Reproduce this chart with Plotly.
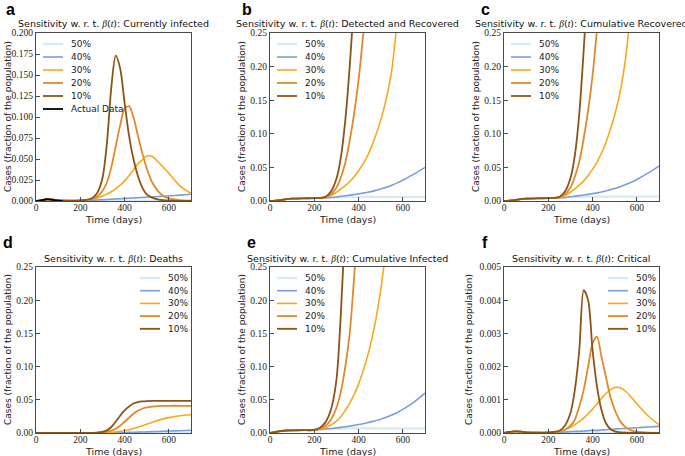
import plotly.graph_objects as go

# time grid (days) shared by all simulated curves
days = [0, 25, 50, 75, 100, 150, 200, 225, 250, 275, 300, 320, 340, 360, 380,
        400, 420, 440, 460, 480, 500, 525, 550, 575, 600, 650, 700]

# a: currently infected
inf_50 = [0, 0.0008, 0.002, 0.0016, 0.0008, 0.0003, 0.0003, 0.0003, 0.0003, 0.0003, 0.0003, 0.0003, 0.0003, 0.0003,
          0.0003, 0.0003, 0.0003, 0.0003, 0.0003, 0.0003, 0.0003, 0.0003, 0.0003, 0.0003, 0.0003, 0.0003, 0.0003]
inf_40 = [0, 0.0008, 0.002, 0.0016, 0.0008, 0.0003, 0.0005, 0.0007, 0.0009, 0.0012, 0.0015, 0.0018, 0.0021, 0.0024,
          0.0027, 0.003, 0.0033, 0.0036, 0.0039, 0.0042, 0.0045, 0.0049, 0.0053, 0.0057, 0.0061, 0.007, 0.008]
inf_30 = [0, 0.0008, 0.002, 0.0016, 0.0008, 0.0003, 0.0005, 0.0009, 0.0017, 0.0033, 0.006, 0.0082, 0.011, 0.0148,
          0.019, 0.024, 0.03, 0.037, 0.044, 0.049, 0.0535, 0.053, 0.047, 0.04, 0.033, 0.018, 0.009]
inf_20 = [0, 0.0008, 0.002, 0.0016, 0.0008, 0.0003, 0.0005, 0.001, 0.0022, 0.005, 0.012, 0.022, 0.04, 0.065,
          0.09, 0.11, 0.113, 0.1, 0.078, 0.057, 0.039, 0.022, 0.012, 0.006, 0.003, 0.001, 0.0003]
inf_10 = [0, 0.0008, 0.002, 0.0016, 0.0008, 0.0003, 0.0006, 0.0012, 0.003, 0.009, 0.027, 0.068, 0.135, 0.173,
          0.158, 0.117, 0.078, 0.05, 0.03, 0.016, 0.008, 0.004, 0.002, 0.001, 0.0005, 0.0002, 0.0001]
actual_days = [0, 10, 20, 30, 40, 50, 60, 70, 80, 90, 100, 110, 120]
actual_inf = [0, 0.0002, 0.0006, 0.0012, 0.0018, 0.0021, 0.002, 0.0016, 0.0011, 0.0007, 0.0004, 0.0002, 0.0001]

# b: detected and recovered
det_50 = [0, 0.0005, 0.0015, 0.0028, 0.0035, 0.004, 0.0042, 0.0044, 0.0047, 0.005, 0.0055, 0.0058, 0.006, 0.006,
          0.006, 0.006, 0.006, 0.006, 0.006, 0.006, 0.006, 0.006, 0.006, 0.006, 0.006, 0.006, 0.006]
det_40 = [0, 0.0005, 0.0015, 0.0028, 0.0035, 0.004, 0.0042, 0.0044, 0.0047, 0.0052, 0.006, 0.007, 0.0078, 0.0087,
          0.0096, 0.0106, 0.0117, 0.0129, 0.0143, 0.016, 0.0178, 0.0205, 0.0235, 0.027, 0.031, 0.04, 0.05]
det_30 = [0, 0.0005, 0.0015, 0.0028, 0.0035, 0.004, 0.0042, 0.0044, 0.005, 0.008, 0.013, 0.018, 0.023, 0.029,
          0.036, 0.045, 0.055, 0.067, 0.082, 0.1, 0.12, 0.152, 0.195, 0.27, 0.34, 0.46, 0.6]
det_20 = [0, 0.0005, 0.0015, 0.0028, 0.0035, 0.004, 0.0042, 0.0044, 0.006, 0.01, 0.02, 0.035, 0.057, 0.09,
          0.13, 0.18, 0.245, 0.32, 0.4, 0.48, 0.56, 0.65, 0.72, 0.78, 0.83, 0.9, 0.95]
det_10 = [0, 0.0005, 0.0015, 0.0028, 0.0035, 0.004, 0.0042, 0.0045, 0.006, 0.014, 0.033, 0.065, 0.12, 0.2,
          0.3, 0.4, 0.5, 0.6, 0.68, 0.75, 0.8, 0.85, 0.9, 0.93, 0.95, 0.97, 0.98]

# c: cumulative recovered
rec_50 = [0, 0.0005, 0.0015, 0.0028, 0.0035, 0.004, 0.0042, 0.0044, 0.0047, 0.0051, 0.0056, 0.006, 0.0062, 0.0064,
          0.0065, 0.0065, 0.0065, 0.0065, 0.0065, 0.0065, 0.0065, 0.0065, 0.0065, 0.0065, 0.0065, 0.0065, 0.0065]
rec_40 = [0, 0.0005, 0.0015, 0.0028, 0.0035, 0.004, 0.0042, 0.0044, 0.0047, 0.0053, 0.0062, 0.0072, 0.008, 0.0089,
          0.0099, 0.011, 0.0121, 0.0134, 0.0149, 0.0166, 0.0185, 0.0213, 0.0244, 0.028, 0.032, 0.0415, 0.052]
rec_30 = [0, 0.0005, 0.0015, 0.0028, 0.0035, 0.004, 0.0042, 0.0044, 0.005, 0.008, 0.013, 0.018, 0.024, 0.03,
          0.038, 0.047, 0.058, 0.071, 0.087, 0.106, 0.128, 0.163, 0.215, 0.29, 0.36, 0.48, 0.62]
rec_20 = [0, 0.0005, 0.0015, 0.0028, 0.0035, 0.004, 0.0042, 0.0044, 0.006, 0.01, 0.02, 0.036, 0.059, 0.093,
          0.135, 0.187, 0.255, 0.33, 0.41, 0.49, 0.57, 0.66, 0.73, 0.79, 0.84, 0.9, 0.95]
rec_10 = [0, 0.0005, 0.0015, 0.0028, 0.0035, 0.004, 0.0042, 0.0045, 0.006, 0.014, 0.034, 0.068, 0.13, 0.225,
          0.33, 0.43, 0.52, 0.61, 0.69, 0.75, 0.8, 0.85, 0.9, 0.93, 0.95, 0.97, 0.98]

# d: deaths
death_50 = [0, 0, 0, 0, 0, 0, 0, 0, 0, 0, 0.0001, 0.0002, 0.0002, 0.0003,
            0.0003, 0.0003, 0.0003, 0.0003, 0.0003, 0.0003, 0.0003, 0.0003, 0.0003, 0.0003, 0.0003, 0.0003, 0.0003]
death_40 = [0, 0, 0, 0, 0, 0, 0, 0, 0, 0.0001, 0.0002, 0.0003, 0.0004, 0.0005,
            0.0006, 0.0008, 0.0009, 0.0011, 0.0013, 0.0015, 0.0017, 0.002, 0.0023, 0.0026, 0.0029, 0.0035, 0.0042]
death_30 = [0, 0, 0, 0, 0, 0, 0, 0, 0, 0.0001, 0.0003, 0.0006, 0.001, 0.0016,
            0.0024, 0.0035, 0.005, 0.0068, 0.0088, 0.011, 0.0133, 0.0162, 0.019, 0.0213, 0.0232, 0.026, 0.0275]
death_20 = [0, 0, 0, 0, 0, 0, 0, 0, 0, 0.0003, 0.0008, 0.0018, 0.0035, 0.0065,
            0.011, 0.017, 0.023, 0.029, 0.0335, 0.0365, 0.0385, 0.0398, 0.0405, 0.0408, 0.041, 0.041, 0.041]
death_10 = [0, 0, 0, 0, 0, 0, 0, 0, 0, 0.0006, 0.0016, 0.004, 0.009, 0.017,
            0.026, 0.034, 0.04, 0.0445, 0.0465, 0.0475, 0.048, 0.0483, 0.0485, 0.0485, 0.0485, 0.0485, 0.0485]

# e: cumulative infected
cum_50 = [0, 0.0015, 0.003, 0.0038, 0.004, 0.0042, 0.0045, 0.005, 0.0055, 0.006, 0.0065, 0.0067, 0.0068, 0.0069,
          0.007, 0.007, 0.007, 0.007, 0.007, 0.007, 0.007, 0.007, 0.007, 0.007, 0.007, 0.007, 0.007]
cum_40 = [0, 0.0015, 0.003, 0.0038, 0.004, 0.0042, 0.0045, 0.0052, 0.006, 0.0068, 0.0077, 0.0085, 0.0094, 0.0104,
          0.0115, 0.0127, 0.014, 0.0155, 0.0171, 0.0189, 0.0208, 0.0237, 0.027, 0.031, 0.0355, 0.0465, 0.06]
cum_30 = [0, 0.0015, 0.003, 0.0038, 0.004, 0.0042, 0.0045, 0.006, 0.008, 0.012, 0.018, 0.025, 0.034, 0.045,
          0.058, 0.074, 0.093, 0.115, 0.142, 0.175, 0.215, 0.28, 0.35, 0.43, 0.52, 0.7, 0.85]
cum_20 = [0, 0.0015, 0.003, 0.0038, 0.004, 0.0042, 0.0045, 0.007, 0.011, 0.02, 0.038, 0.062, 0.1, 0.15,
          0.235, 0.33, 0.43, 0.53, 0.62, 0.7, 0.77, 0.83, 0.87, 0.9, 0.92, 0.94, 0.95]
cum_10 = [0, 0.0015, 0.003, 0.0038, 0.004, 0.0042, 0.0046, 0.008, 0.016, 0.035, 0.08, 0.18, 0.32, 0.45,
          0.56, 0.65, 0.72, 0.78, 0.82, 0.85, 0.87, 0.89, 0.9, 0.91, 0.92, 0.93, 0.93]

# f: critical
crit_50 = [0, 0.00003, 0.00005, 0.00004, 0.00002, 0.00001, 0.00001, 0.00001, 0.00001, 0.00001, 0.00001, 0.00001, 0.00001,
           0.00001, 0.00001, 0.00001, 0.00001, 0.00001, 0.00001, 0.00001, 0.00001, 0.00001, 0.00001, 0.00001, 0.00001,
           0.00001, 0.00001]
crit_40 = [0, 0.00003, 0.00005, 0.00004, 0.00002, 0.00001, 0.00001, 0.00002, 0.00002, 0.00003, 0.00004, 0.00005, 0.00005,
           0.00006, 0.00007, 0.00008, 0.00008, 0.00009, 0.0001, 0.00011, 0.00012, 0.00013, 0.00014, 0.00015, 0.00016,
           0.00018, 0.0002]
crit_30 = [0, 0.00003, 0.00005, 0.00004, 0.00002, 0.00001, 0.00001, 0.00002, 0.00005, 0.0001, 0.00017, 0.00025, 0.00034,
           0.00045, 0.00058, 0.00072, 0.00088, 0.00104, 0.00119, 0.0013, 0.00137, 0.00136, 0.00125, 0.00108, 0.00088,
           0.00052, 0.00025]
crit_20 = [0, 0.00003, 0.00005, 0.00004, 0.00002, 0.00001, 0.00001, 0.00002, 0.00004, 0.0001, 0.00022, 0.0004, 0.0008,
           0.0013, 0.002, 0.0027, 0.0029, 0.0023, 0.0017, 0.0011, 0.0007, 0.00035, 0.00017, 0.00008, 0.00004,
           0.00001, 0]
crit_10 = [0, 0.00003, 0.00005, 0.00004, 0.00002, 0.00001, 0.00002, 0.00003, 0.00007, 0.00022, 0.0006, 0.0013, 0.0025,
           0.0043, 0.004, 0.0025, 0.0014, 0.0007, 0.0003, 0.00012, 0.00005, 0.00002, 0.00001, 0, 0, 0, 0]

labels = ["50%", "40%", "30%", "20%", "10%"]
colors = ["#d5eaf4", "#7b9de0", "#f9a81b", "#e08a2b", "#8b5518"]
widths = [2.2, 1.6, 1.6, 1.8, 1.8]

axis_color = "#4a4a4a"
sans = "DejaVu Sans"
serif = "Liberation Serif"

beta = ("<span style=\"font-family:Liberation Serif;font-style:italic\">β</span>(<span "
        "style=\"font-family:Liberation Serif;font-style:italic\">t</span>)")

# title, series, ymax, dtick, tick format, legend side, letter
panels = [
    ("Currently infected", [inf_50, inf_40, inf_30, inf_20, inf_10], 0.2, 0.025, ".3f", "left", "a"),
    ("Detected and Recovered", [det_50, det_40, det_30, det_20, det_10], 0.25, 0.05, ".2f", "left", "b"),
    ("Cumulative Recovered", [rec_50, rec_40, rec_30, rec_20, rec_10], 0.25, 0.05, ".2f", "left", "c"),
    ("Deaths", [death_50, death_40, death_30, death_20, death_10], 0.25, 0.05, ".2f", "right", "d"),
    ("Cumulative Infected", [cum_50, cum_40, cum_30, cum_20, cum_10], 0.25, 0.05, ".2f", "left", "e"),
    ("Critical", [crit_50, crit_40, crit_30, crit_20, crit_10], 0.005, 0.001, ".3f", "right", "f"),
]

# plot areas in pixels (x0, x1, y_top, y_bottom)
W, H = 685, 456
boxes = [
    (36, 191, 33, 201), (270, 425, 33, 201), (504, 659, 33, 201),
    (36, 191, 267, 433), (270, 425, 267, 433), (504, 659, 267, 433),
]
ytitle_x = [8, 242, 476, 8, 242, 469]
letter_x = [10, 247, 486, 8, 251, 485]
letter_y = [9, 9, 9, 242, 242, 242]

fig = go.Figure()
annotations = []
shapes = []


def px(x):
    return x / W


def py(y):
    return 1 - y / H


for i, (title, series, ymax, dtick, fmt, side, letter) in enumerate(panels):
    n = "" if i == 0 else str(i + 1)
    x0, x1, yt, yb = boxes[i]
    names = labels[:]
    cols = colors[:]
    lws = widths[:]
    for lab, col, lw, ys in zip(labels, colors, widths, series):
        fig.add_trace(go.Scatter(
            x=days, y=ys, mode="lines", name=lab, showlegend=False,
            line=dict(color=col, width=lw, shape="spline", smoothing=0.8),
            xaxis="x" + n, yaxis="y" + n,
        ))
    if i == 0:
        fig.add_trace(go.Scatter(
            x=actual_days, y=actual_inf, mode="lines", name="Actual Data", showlegend=False,
            line=dict(color="black", width=1.8, shape="spline"),
            xaxis="x", yaxis="y",
        ))
        names.append("Actual Data")
        cols.append("black")
        lws.append(1.8)

    common = dict(
        showline=True, mirror=True, linecolor=axis_color, linewidth=1.3,
        ticks="inside", ticklen=4, tickcolor=axis_color, tickwidth=1,
        showgrid=False, zeroline=False, automargin=False,
        tickfont=dict(family=serif, size=9.5, color="#222"),
    )
    fig.layout["xaxis" + n] = dict(
        common, domain=[px(x0), px(x1)], range=[0, 700], tickvals=[0, 200, 400, 600],
        anchor="y" + n, ticklabelstandoff=-3,
    )
    fig.layout["yaxis" + n] = dict(
        common, domain=[py(yb), py(yt)], range=[0, ymax], dtick=dtick, tickformat=fmt,
        anchor="x" + n,
    )

    # legend: short line sample + label, drawn inside the panel
    if side == "left":
        lx0 = x0 + 7
    else:
        lx0 = x1 - 51
    ly0 = yt + 11
    step = 13 if i < 3 else 12.7
    for k, (nm, col, lw) in enumerate(zip(names, cols, lws)):
        ly = ly0 + k * step
        shapes.append(dict(
            type="line", xref="paper", yref="paper",
            x0=px(lx0), x1=px(lx0 + 20), y0=py(ly), y1=py(ly),
            line=dict(color=col, width=lw),
        ))
        annotations.append(dict(
            text=nm, x=px(lx0 + 26), y=py(ly), xref="paper", yref="paper",
            xanchor="left", yanchor="middle", showarrow=False,
            font=dict(family=sans, size=9, color="#222"),
        ))

    annotations.append(dict(
        text="Sensitivity w. r. t. " + beta + ": " + title,
        x=px((x0 + x1) / 2), y=py(yt - 9), xref="paper", yref="paper",
        xanchor="center", yanchor="middle", showarrow=False,
        font=dict(family=sans, size=9.5, color="#111"),
    ))
    annotations.append(dict(
        text="Time (days)",
        x=px((x0 + x1) / 2), y=py(yb + 18), xref="paper", yref="paper",
        xanchor="center", yanchor="middle", showarrow=False,
        font=dict(family=sans, size=9.5, color="#222"),
    ))
    annotations.append(dict(
        text="Cases (fraction of the population)", textangle=-90,
        x=px(ytitle_x[i]), y=py((yt + yb) / 2), xref="paper", yref="paper",
        xanchor="center", yanchor="middle", showarrow=False,
        font=dict(family=sans, size=9, color="#222"),
    ))
    annotations.append(dict(
        text="<b>" + letter + "</b>", x=px(letter_x[i]), y=py(letter_y[i]),
        xref="paper", yref="paper", xanchor="center", yanchor="middle", showarrow=False,
        font=dict(family="Liberation Sans", size=16, color="black"),
    ))

fig.update_layout(
    width=W, height=H,
    margin=dict(l=0, r=0, t=0, b=0),
    paper_bgcolor="white", plot_bgcolor="white",
    annotations=annotations,
    shapes=shapes,
    showlegend=False,
)

# the page's default body margin would shift the figure; drop it
fig.write_html("out.html", config={"displayModeBar": False},
               post_script="document.body.style.margin='0px';")
